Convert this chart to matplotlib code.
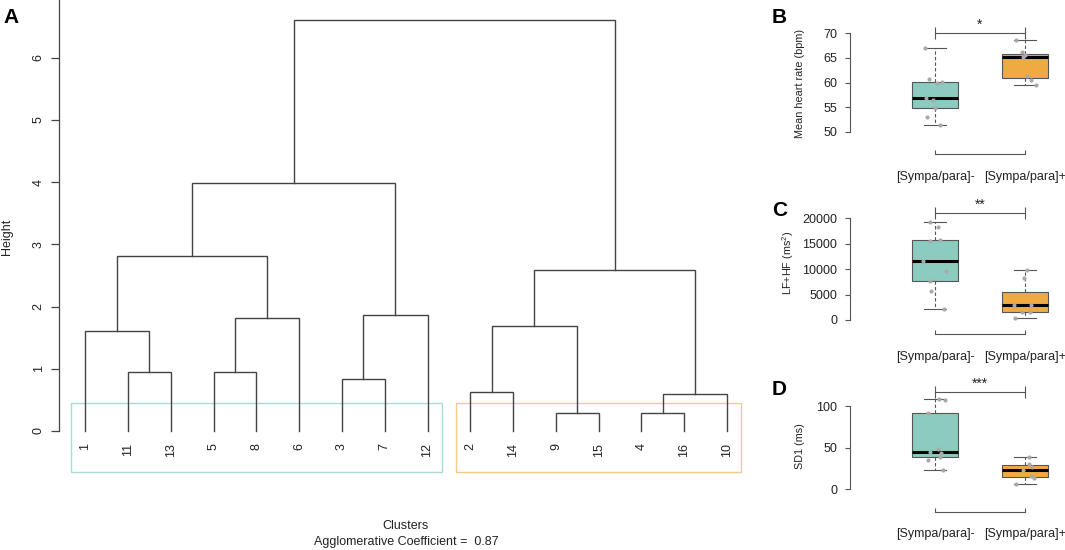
import numpy as np
import matplotlib.pyplot as plt
from matplotlib.patches import Rectangle

plt.rcParams['font.family'] = ['Liberation Sans', 'DejaVu Sans']

# --- dendrogram (R hclust style merge table: negative = leaf, positive = earlier merge)
merge_a = [-11, -5, -3, -9, -4, -2, 5, -1, 2, 6, 3, 10, 8, 13, 14]
merge_b = [-13, -8, -7, -15, -16, -14, -10, 1, -6, 4, -12, 7, 9, 11, 12]
merge_h = [0.95, 0.95, 0.84, 0.29, 0.29, 0.63, 0.59, 1.61, 1.81, 1.69, 1.87,
           2.59, 2.81, 3.98, 6.61]
leaf_order = [1, 11, 13, 5, 8, 6, 3, 7, 12, 2, 14, 9, 15, 4, 16, 10]
cluster_sizes = [9, 7]
agg_coef = 0.87

# --- boxplots
groups = ['[Sympa/para]-', '[Sympa/para]+']
hr_neg = [67.1, 60.7, 60.1, 59.9, 56.9, 56.4, 54.8, 52.9, 51.3]
hr_pos = [68.7, 66.1, 65.6, 65.2, 61.4, 60.5, 59.4]
lfhf_neg = [19350, 18250, 15750, 15550, 11650, 9700, 7740, 5770, 2170]
lfhf_pos = [9840, 8200, 2950, 2890, 1550, 1480, 450]
sd1_neg = [108.7, 107.2, 91.9, 48.0, 44.4, 43.2, 39.1, 35.2, 22.8]
sd1_pos = [38.4, 30.0, 27.2, 23.2, 16.0, 13.2, 6.4]

W, H = 1065, 550
fig = plt.figure(figsize=(W / 100, H / 100), dpi=100)

line_col = '#444444'
edge = '#555555'
box_colors = ['#8ccbc0', '#f0aa42']
rect_colors = ['#a8ddd6', '#f6c98c']


def place(left, top, right, bottom, xref, yref):
    # axes from a pixel box; limits so that reference values land on given pixels
    ax = fig.add_axes([left / W, 1 - bottom / H, (right - left) / W, (bottom - top) / H])
    (xv0, xp0), (xv1, xp1) = xref
    sx = (xv1 - xv0) / (xp1 - xp0)
    ax.set_xlim(xv0 + (left - xp0) * sx, xv0 + (right - xp0) * sx)
    (yv0, yp0), (yv1, yp1) = yref
    sy = (yv1 - yv0) / (yp1 - yp0)
    ax.set_ylim(yv0 + (bottom - yp0) * sy, yv0 + (top - yp0) * sy)
    return ax


def ftext(x, y, s, **kw):
    fig.text(x / W, 1 - y / H, s, **kw)


# ---------------- panel A
ax = place(59.3, 0, 760, 480, ((1, 85.3), (16, 727)), ((0, 431), (6, 57.7)))
pos = {leaf: i + 1 for i, leaf in enumerate(leaf_order)}
node_x = []


def coord(k):
    if k < 0:
        return pos[-k], 0.0
    return node_x[k - 1], merge_h[k - 1]


for a, b, h in zip(merge_a, merge_b, merge_h):
    xa, ya = coord(a)
    xb, yb = coord(b)
    ax.plot([xa, xa, xb, xb], [ya, h, h, yb], color=line_col, lw=1.0,
            solid_joinstyle='miter', clip_on=False)
    node_x.append((xa + xb) / 2)

for leaf, x in pos.items():
    ax.annotate(str(leaf), xy=(x, 0), xytext=(0, -8.9), textcoords='offset points',
                rotation=90, ha='center', va='top', fontsize=9, color='#222222')

start = 1
for size, c in zip(cluster_sizes, rect_colors):
    ax.add_patch(Rectangle((start - 0.33, -0.654), size - 1 + 0.66, 0.654 + 0.445,
                           fill=False, edgecolor=c, lw=1.0, clip_on=False))
    start += size

for s in ['top', 'right', 'bottom']:
    ax.spines[s].set_visible(False)
ax.spines['left'].set_bounds(0, ax.get_ylim()[1])
ax.spines['left'].set_color(line_col)
ax.spines['left'].set_linewidth(0.9)
ax.set_xticks([])
ax.set_yticks(range(0, 7))
ax.tick_params(axis='y', length=5.5, width=0.9, color=line_col, pad=5, labelsize=9,
               labelcolor='#222222')
plt.setp(ax.get_yticklabels(), rotation=90, va='center')

ftext(6.7, 236.8, 'Height', rotation=90, ha='center', va='center', fontsize=9, color='#222222')
ftext(406, 526, 'Clusters', ha='center', va='center', fontsize=9, color='#222222')
ftext(406, 541.7, 'Agglomerative Coefficient =  %.2f' % agg_coef, ha='center', va='center',
      fontsize=9, color='#222222')

# ---------------- panels B, C, D
rng = np.random.default_rng(3)


def box_panel(ax, neg, pos_vals, ticks, bracket_y, stars):
    bp = ax.boxplot([neg, pos_vals], positions=[1, 2], widths=0.51, patch_artist=True,
                    showfliers=False, capwidths=0.24,
                    boxprops=dict(edgecolor=edge, linewidth=0.8),
                    whiskerprops=dict(color=edge, linewidth=0.8, linestyle=(0, (3, 2))),
                    capprops=dict(color=edge, linewidth=0.8),
                    medianprops=dict(color='black', linewidth=2.2))
    for patch, c in zip(bp['boxes'], box_colors):
        patch.set_facecolor(c)
    for i, vals in enumerate([neg, pos_vals]):
        jit = rng.uniform(-0.13, 0.13, len(vals))
        ax.scatter(i + 1 + jit, vals, s=9, color='#a9a9a9', zorder=3, linewidths=0)

    ax.plot([1, 2], [bracket_y, bracket_y], color=edge, lw=0.8, clip_on=False)
    ax.plot([1, 2], [bracket_y, bracket_y], ls='none', marker='|', ms=8, mew=0.8,
            color=edge, clip_on=False)
    ax.annotate(stars, xy=(1.5, bracket_y), xytext=(0, 3.2), textcoords='offset points',
                ha='center', va='baseline', fontsize=10, color='#222222')

    for s in ['top', 'right']:
        ax.spines[s].set_visible(False)
    for s in ['left', 'bottom']:
        ax.spines[s].set_color(edge)
        ax.spines[s].set_linewidth(0.8)
    ax.spines['left'].set_bounds(ticks[0], ticks[-1])
    ax.spines['bottom'].set_bounds(1, 2)
    ax.set_yticks(ticks)
    ax.set_xticks([1, 2], groups)
    ax.tick_params(axis='y', length=3.6, width=0.8, color=edge, pad=5.5, labelsize=9,
                   labelcolor='#222222')
    ax.tick_params(axis='x', direction='in', length=2.6, width=0.8, color=edge, pad=12,
                   labelsize=9, labelcolor='#222222')
    ax.patch.set_visible(False)


axB = place(850, 5, 1065, 154, ((1, 935), (2, 1025)), ((50, 131.7), (70, 33.3)))
box_panel(axB, hr_neg, hr_pos, [50, 55, 60, 65, 70], 70, '*')
axC = place(850, 185, 1065, 334, ((1, 935), (2, 1025)), ((0, 320), (20000, 218.3)))
box_panel(axC, lfhf_neg, lfhf_pos, [0, 5000, 10000, 15000, 20000], 21000, '**')
axD = place(850, 365, 1065, 511.7, ((1, 935), (2, 1025)), ((0, 489.3), (100, 406)))
box_panel(axD, sd1_neg, sd1_pos, [0, 50, 100], 116.5, '***')

ftext(800, 83.3, 'Mean heart rate (bpm)', rotation=90, ha='center', va='center',
      fontsize=7.8, color='#222222')
ftext(788, 263, 'LF+HF (ms$\\mathregular{^2}$)', rotation=90, ha='center', va='center',
      fontsize=7.8, color='#222222')
ftext(800, 446, 'SD1 (ms)', rotation=90, ha='center', va='center', fontsize=7.8,
      color='#222222')

for lab, x, y in [('A', 3, 23), ('B', 772, 23.3), ('C', 772, 215.5), ('D', 772, 395)]:
    ftext(x, y, lab, ha='left', va='baseline', fontsize=15, fontweight='bold')

fig.savefig('out.png', dpi=100)
